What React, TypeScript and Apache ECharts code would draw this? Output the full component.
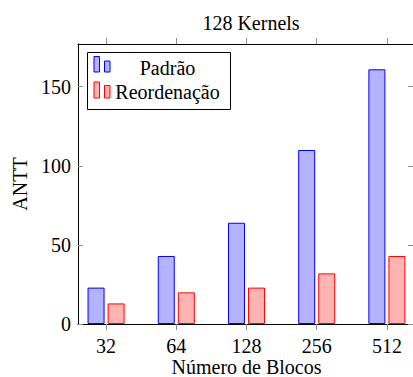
import React, { useEffect, useRef } from "react";
import * as echarts from "echarts";

const categories = ["32", "64", "128", "256", "512"];
const seriesNames = ["Padrão", "Reordenação"];
const padrao = [23, 43, 64, 110, 161];
const reordenacao = [13, 20, 23, 32, 43];
const yTicks = [0, 50, 100, 150];
const titleText = "128 Kernels";
const xName = "Número de Blocos";
const yName = "ANTT";

const FONT = "'Liberation Serif', serif";
const BLUE_FILL = "#b3b3ff";
const BLUE_LINE = "#0000ff";
const RED_FILL = "#ffb3b3";
const RED_LINE = "#ff0000";
const TICK = "#8c8c8c";

export default function App() {
  const ref = useRef<HTMLDivElement>(null);
  useEffect(() => {
    if (!ref.current) return;
    const chart = echarts.init(ref.current, undefined, { renderer: "svg" });
    const idx = categories.map((_, i) => i);
    const xMin = -0.4;
    const xMax = categories.length - 1 + 0.4;
    const yMax = 177;
    const option: any = {
      animation: false,
      backgroundColor: "#ffffff",
      textStyle: { fontFamily: FONT, fontSize: 20, color: "#000" },
      title: {
        text: titleText,
        left: 246,
        top: 8,
        textAlign: "center",
        textStyle: { fontFamily: FONT, fontSize: 20, color: "#000", fontWeight: "normal" },
      },
      grid: { left: 78, top: 44, right: -2, bottom: 53, containLabel: false, outerBoundsMode: "none" },
      xAxis: [
        {
          type: "value",
          position: "bottom",
          min: xMin,
          max: xMax,
          name: xName,
          nameLocation: "middle",
          nameGap: 33,
          nameMoveOverlap: false,
          nameTextStyle: { fontFamily: "Times New Roman", fontSize: 20, color: "#000", fontWeight: "normal", fontStyle: "normal", verticalAlign: "top" },
          axisLine: { show: true, onZero: false, lineStyle: { color: "#000", width: 1 } },
          axisTick: { show: true, inside: false, length: 6, customValues: idx, lineStyle: { color: TICK, width: 1 } },
          axisLabel: {
            show: true,
            customValues: idx,
            margin: 12,
            fontFamily: "serif",
            fontSize: 20,
            fontWeight: "normal",
            fontStyle: "normal",
            color: "#000",
            formatter: (v: number) => categories[Math.round(v)] ?? "",
          },
          splitLine: { show: false },
        },
        {
          type: "value",
          position: "top",
          min: xMin,
          max: xMax,
          axisLine: { show: true, onZero: false, lineStyle: { color: "#000", width: 1 } },
          axisTick: { show: true, inside: false, length: 6, customValues: idx, lineStyle: { color: TICK, width: 1 } },
          axisLabel: { show: false },
          splitLine: { show: false },
        },
      ],
      yAxis: [
        {
          type: "value",
          position: "left",
          min: 0,
          max: yMax,
          name: yName,
          nameLocation: "middle",
          nameRotate: 90,
          nameGap: 48,
          nameMoveOverlap: false,
          nameTextStyle: { fontFamily: FONT, fontSize: 20, color: "#000" },
          axisLine: { show: true, onZero: false, lineStyle: { color: "#000", width: 1 } },
          axisTick: { show: true, inside: true, length: 5, customValues: yTicks, lineStyle: { color: TICK, width: 1 } },
          axisLabel: {
            show: true,
            customValues: yTicks,
            margin: 7,
            fontFamily: "Liberation Serif",
            fontSize: 20,
            fontWeight: "normal",
            fontStyle: "normal",
            color: "#000",
          },
          splitLine: { show: false },
        },
        {
          type: "value",
          position: "right",
          min: 0,
          max: yMax,
          axisLine: { show: true, onZero: false, lineStyle: { color: "#000", width: 1 } },
          axisTick: { show: true, inside: true, length: 7, customValues: yTicks, lineStyle: { color: TICK, width: 1 } },
          axisLabel: { show: false },
          splitLine: { show: false },
        },
      ],
      series: [
        {
          name: seriesNames[0],
          type: "bar",
          xAxisIndex: 0,
          yAxisIndex: 0,
          barWidth: 17,
          barGap: "18%",
          data: padrao.map((v, i) => [i, v]),
          itemStyle: { color: BLUE_FILL, borderColor: BLUE_LINE, borderWidth: 1 },
        },
        {
          name: seriesNames[1],
          type: "bar",
          xAxisIndex: 0,
          yAxisIndex: 0,
          barWidth: 17,
          barGap: "18%",
          data: reordenacao.map((v, i) => [i, v]),
          itemStyle: { color: RED_FILL, borderColor: RED_LINE, borderWidth: 1 },
        },
      ],
      graphic: [
        {
          type: "group",
          z: 100,
          children: [
            {
              type: "rect",
              shape: { x: 87.5, y: 52.5, width: 143, height: 57 },
              style: { fill: "#ffffff", stroke: "#000", lineWidth: 1 },
            },
            { type: "rect", shape: { x: 94, y: 56.5, width: 5.5, height: 15.5 }, style: { fill: BLUE_FILL, stroke: BLUE_LINE, lineWidth: 1 } },
            { type: "rect", shape: { x: 104.5, y: 61, width: 5.5, height: 11 }, style: { fill: BLUE_FILL, stroke: BLUE_LINE, lineWidth: 1 } },
            { type: "rect", shape: { x: 94, y: 82, width: 5.5, height: 16 }, style: { fill: RED_FILL, stroke: RED_LINE, lineWidth: 1 } },
            { type: "rect", shape: { x: 104.5, y: 85.5, width: 5.5, height: 12.5 }, style: { fill: RED_FILL, stroke: RED_LINE, lineWidth: 1 } },
            {
              type: "text",
              x: 167.5,
              y: 68,
              style: { text: seriesNames[0], font: `20px ${FONT}`, fill: "#000", align: "center", verticalAlign: "middle" },
            },
            {
              type: "text",
              x: 167.5,
              y: 92,
              style: { text: seriesNames[1], font: `20px ${FONT}`, fill: "#000", align: "center", verticalAlign: "middle" },
            },
          ],
        },
      ],
    };
    chart.setOption(option);
    return () => chart.dispose();
  }, []);
  return <div ref={ref} style={{ position: "fixed", left: 0, top: 0, width: 413, height: 377 }} />;
}
